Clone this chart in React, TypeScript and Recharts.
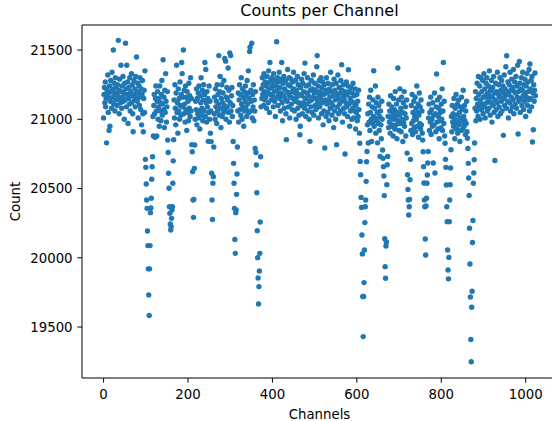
import { ScatterChart, Scatter, XAxis, YAxis, ReferenceLine, Label } from 'recharts'

// counts, 128 channels per array
const counts000 = [
  21010, 21180, 21230, 21120, 21270, 21090, 21150, 20830, 21210, 21160, 21320, 21050, 21190, 20920, 21240, 20950,
  21130, 21280, 21200, 21080, 21340, 21160, 21220, 21500, 21110, 21260, 21190, 21060, 21300, 21140, 21230, 21180,
  21100, 21250, 21170, 21570, 21210, 21040, 21290, 21150, 21120, 21390, 21200, 21080, 21240, 21160, 21310, 21130,
  21190, 21000, 21260, 21140, 21550, 21220, 21090, 21390, 21180, 21270, 20970, 21150, 21230, 21110, 21300, 21060,
  21200, 21170, 21330, 21120, 21250, 21040, 20910, 21180, 21280, 21140, 21220, 21090, 21310, 21160, 21450, 21200,
  21130, 21260, 21010, 21190, 21240, 21100, 21300, 21160, 21070, 21220, 20960, 21180, 21280, 21040, 20910, 21150,
  21210, 21050, 21350, 20711, 20653, 20533, 20417, 20357, 20193, 20088, 19920, 19732, 19583, 19920, 20088, 20326,
  20360, 20430, 20567, 20658, 20730, 21020, 20880, 21100, 21180, 21040, 20870, 21150, 21240, 21060, 20880, 21130,
]
const counts128 = [
  21200, 21000, 21090, 21150, 20950, 21240, 21060, 21120, 20990, 21180, 21280, 21030, 21110, 21430, 21070, 21160,
  20940, 21210, 21050, 21330, 21130, 20980, 21090, 21200, 20850, 20760, 20610, 20502, 20369, 20321, 20244, 20201,
  20225, 20285, 20345, 20369, 20538, 20700, 20853, 21140, 21010, 21250, 21080, 20960, 21190, 21390, 21050, 21120,
  20900, 21220, 21060, 21150, 21000, 21270, 21100, 21030, 21180, 21410, 21330, 21090, 21160, 21500, 21040, 21210,
  21110, 20980, 21240, 21070, 21160, 20920, 21200, 21050, 21130, 20990, 21260, 21080, 21170, 21020, 21300, 21060,
  21150, 20817, 20766, 20622, 20417, 20292, 20422, 20646, 20815, 21000, 21130, 21070, 21220, 20960, 21150, 21040,
  21190, 21010, 21240, 21060, 20930, 21170, 21120, 21300, 21030, 21080, 21210, 20990, 21140, 21250, 21060, 21180,
  21410, 21020, 21360, 21120, 20980, 21200, 21090, 21150, 20841, 21050, 21240, 21000, 21130, 20900, 21060, 20839,
]
const counts256 = [
  20610, 20417, 20277, 20538, 20586, 20800, 21040, 21160, 21000, 21220, 21090, 21130, 20970, 21250, 21060, 21180,
  21110, 21460, 21030, 21200, 21310, 21080, 20940, 21150, 21250, 21020, 21120, 21190, 21050, 21280, 21100, 21440,
  21070, 21420, 21000, 21160, 21230, 21090, 21140, 21370, 21050, 21210, 20980, 21480, 21120, 21460, 21060, 21170,
  21230, 21020, 21100, 20840, 20682, 20538, 20357, 20133, 20032, 20326, 20345, 20458, 20605, 20800, 21060, 21190,
  20980, 21140, 21250, 21070, 21180, 21030, 21300, 21110, 21000, 21220, 21090, 21160, 20950, 21200, 21060, 21130,
  21240, 21080, 21170, 21020, 21280, 21110, 21190, 21350, 21050, 21150, 21490, 21520, 21060, 21210, 21130, 21550,
  21010, 21180, 21090, 21250, 20990, 21140, 21060, 20790, 21200, 20760, 20670, 20470, 20196, 20001, 19854, 19667,
  19792, 19905, 20032, 20259, 20730, 21090, 21220, 21150, 21300, 21180, 21250, 21100, 21330, 21200, 21140, 21270,
]
const counts384 = [
  21160, 21240, 21080, 21310, 21190, 21260, 21120, 21350, 21220, 21050, 21410, 21180, 21280, 21140, 21230, 21300,
  21170, 21250, 21090, 21330, 21200, 21130, 21280, 21020, 21240, 21160, 21560, 21210, 21300, 21100, 21270, 21180,
  21340, 21150, 21230, 21060, 21290, 21190, 21410, 21120, 20990, 21260, 21170, 21310, 21080, 21220, 21150, 21280,
  21040, 20853, 21200, 21130, 21360, 21250, 21090, 21180, 21300, 21010, 21240, 21160, 21290, 21110, 21200, 21070,
  21270, 21150, 21340, 21220, 21060, 21190, 21130, 21280, 21000, 21210, 21160, 21310, 21080, 21250, 21120, 21030,
  21180, 20889, 20950, 21230, 21100, 21290, 21170, 21040, 21260, 21120, 21200, 21330, 21080, 21406, 21150, 21020,
  21240, 21110, 21190, 21300, 21060, 21170, 21250, 21000, 21130, 20841, 21210, 21090, 21280, 21140, 21050, 21220,
  21160, 21320, 21030, 21190, 21260, 21100, 21210, 21070, 21150, 21380, 21460, 21120, 21240, 21010, 21180, 21280,
]
const counts512 = [
  21090, 21200, 21150, 21300, 21040, 21230, 21120, 21270, 20960, 21180, 21060, 21250, 20793, 21140, 21210, 21020,
  21300, 21110, 21190, 21050, 21260, 21130, 20990, 21220, 21160, 21080, 21340, 21120, 21200, 21030, 21250, 21100,
  21170, 20940, 21290, 21060, 21210, 21140, 21000, 21260, 20817, 21180, 21090, 21320, 21150, 21040, 21230, 21110,
  21190, 21060, 21280, 21130, 21394, 21210, 20980, 21170, 21250, 21080, 21150, 21040, 20749, 21200, 21120, 21270,
  21090, 21180, 21020, 21240, 21358, 21110, 21200, 20950, 21150, 21060, 21230, 21130, 21000, 21190, 21080, 21260,
  21120, 21010, 21170, 21060, 21220, 20930, 21100, 21050, 21180, 20990, 21130, 21020, 21210, 21070, 20900, 20827,
  20696, 20600, 20436, 20364, 20165, 20028, 19720, 19431, 19720, 19821, 20057, 20254, 20369, 20417, 20552, 20694,
  20768, 20960, 21040, 20829, 21110, 20980, 21160, 20920, 21050, 21210, 21000, 20840, 21090, 20970, 21140, 21020,
]
const counts640 = [
  21351, 20950, 21080, 21010, 21240, 20900, 21120, 20990, 21050, 20830, 21160, 20970, 21100, 20920, 21020, 20732,
  21060, 20960, 20860, 21130, 21000, 20778, 20718, 20658, 20591, 20449, 20138, 19936, 19852, 20085, 20114, 20528,
  20672, 20732, 21020, 20940, 21110, 20980, 21060, 20900, 21170, 21010, 20950, 21090, 20960, 21040, 20880, 21150,
  21000, 21070, 20930, 21200, 21020, 20960, 21110, 20860, 21050, 21370, 20990, 21140, 20920, 21030, 21220, 20970,
  21080, 20910, 21160, 21000, 21050, 20840, 21120, 20980, 21200, 20950, 21040, 21090, 20880, 21010, 21140, 20756,
  20600, 20494, 20417, 20309, 20369, 20422, 20564, 20711, 20920, 21100, 20970, 21180, 20890, 21050, 20990, 21130,
  20940, 21020, 21160, 20910, 21080, 21000, 21240, 20950, 21050, 21110, 20870, 21030, 21190, 20970, 21090, 20930,
  21140, 20960, 21060, 20900, 20850, 20766, 20658, 20540, 20417, 20369, 20136, 20020, 20374, 20430, 20538, 20598,
]
const counts768 = [
  20684, 20768, 21010, 21110, 20920, 21050, 20980, 21160, 20890, 21070, 21000, 20950, 21120, 20684, 21030, 20960,
  21190, 20612, 21040, 20910, 21090, 21327, 20980, 21140, 20930, 21020, 21080, 20860, 21160, 20990, 21050, 20940,
  21110, 21000, 21220, 20920, 21060, 21411, 20970, 21130, 20880, 20827, 20711, 20653, 20526, 20369, 20261, 20056,
  19912, 19848, 20003, 20261, 20417, 20528, 20648, 20780, 21020, 20910, 21100, 20980, 21040, 20950, 21150, 21000,
  20860, 21080, 20970, 21180, 20930, 21030, 21110, 20900, 20990, 21140, 20960, 21050, 20840, 21090, 21010, 20920,
  21160, 20980, 21070, 20930, 21210, 21020, 20950, 21100, 20990, 20890, 21060, 20970, 21130, 20910, 20863, 20790,
  20682, 20576, 20450, 20214, 19955, 19717, 19410, 19249, 19643, 19758, 20110, 20269, 20538, 20612, 20708, 20829,
  21080, 21200, 20990, 21150, 21060, 21260, 21110, 21020, 21310, 21180, 21090, 21240, 21000, 21140, 21300, 21070,
]
const counts896 = [
  21200, 21110, 21280, 21040, 21160, 21330, 21090, 21220, 21010, 21170, 21260, 21120, 21300, 21060, 21190, 21140,
  21240, 21080, 21350, 21170, 21030, 21210, 21120, 21280, 20980, 21160, 21230, 21100, 21310, 21050, 21190, 20703,
  21140, 21260, 21070, 21200, 21120, 21340, 21020, 21180, 21250, 21090, 21160, 21300, 21040, 21210, 21130, 21280,
  21060, 21190, 21240, 20884, 21150, 21320, 21100, 21220, 21170, 21380, 21080, 21459, 21200, 21130, 21270, 21010,
  21180, 21250, 21120, 21340, 21060, 21210, 21160, 21290, 21090, 21230, 21140, 21360, 21040, 21200, 21270, 21110,
  21190, 21310, 21080, 21240, 21160, 21390, 20894, 21200, 21130, 21418, 21260, 21050, 21220, 21150, 21300, 21100,
  21210, 21340, 21170, 21070, 21250, 21130, 21290, 21190, 21020, 21240, 21160, 21330, 21100, 21270, 21200, 21140,
  21360, 21060, 21399, 21220, 21150, 21280, 21090, 21310, 20836, 21190, 20925, 21250, 21130, 21210, 21334, 21170,
]

const xTicks = [0, 200, 400, 600, 800, 1000]
const yTicks = [19500, 20000, 20500, 21000, 21500]

const X_DOMAIN: [number, number] = [-51.15, 1074.15]
const Y_DOMAIN: [number, number] = [19132, 21681]

const points = [
  counts000, counts128, counts256, counts384,
  counts512, counts640, counts768, counts896,
].flat().map((count, ch) => ({ ch, count }))

const FONT = 'DejaVu Sans'
const tickStyle = { fontSize: 13.3, fill: '#000', fontFamily: FONT }

const Dot = (p: any) => <circle cx={p.cx} cy={p.cy} r={2.7} fill="#1f77b4" />

export default function App() {
  return (
    <div style={{
      position: 'fixed', left: 0, top: 0, width: 552, height: 421,
      overflow: 'hidden', background: '#fff',
    }}>
      <div style={{
        position: 'absolute', left: 82, top: 1, width: 475,
        textAlign: 'center', fontFamily: FONT, fontSize: 16, lineHeight: '20px', color: '#000',
      }}>
        Counts per Channel
      </div>
      <ScatterChart
        width={580}
        height={421}
        margin={{ top: 25, right: 23, bottom: 0, left: 0 }}
      >
        <XAxis
          type="number"
          dataKey="ch"
          domain={X_DOMAIN}
          ticks={xTicks}
          allowDataOverflow
          height={43}
          tick={tickStyle}
          tickSize={4.7}
          tickMargin={7}
          stroke="#000"
        >
          <Label
            content={() => (
              <text x={319.5} y={419} textAnchor="middle" fontFamily={FONT} fontSize={13.3} fill="#000">
                Channels
              </text>
            )}
          />
        </XAxis>
        <YAxis
          type="number"
          dataKey="count"
          domain={Y_DOMAIN}
          ticks={yTicks}
          allowDataOverflow
          width={82}
          tick={tickStyle}
          tickSize={4.7}
          tickMargin={4.7}
          stroke="#000"
        >
          <Label
            content={() => (
              <text
                x={15}
                y={201.5}
                transform="rotate(-90 15 201.5)"
                textAnchor="middle"
                dominantBaseline="central"
                fontFamily={FONT}
                fontSize={13.3}
                fill="#000"
              >
                Count
              </text>
            )}
          />
        </YAxis>
        <ReferenceLine y={Y_DOMAIN[1]} stroke="#000" />
        <ReferenceLine x={X_DOMAIN[1]} stroke="#000" />
        <Scatter data={points} shape={Dot} isAnimationActive={false} />
      </ScatterChart>
    </div>
  )
}
